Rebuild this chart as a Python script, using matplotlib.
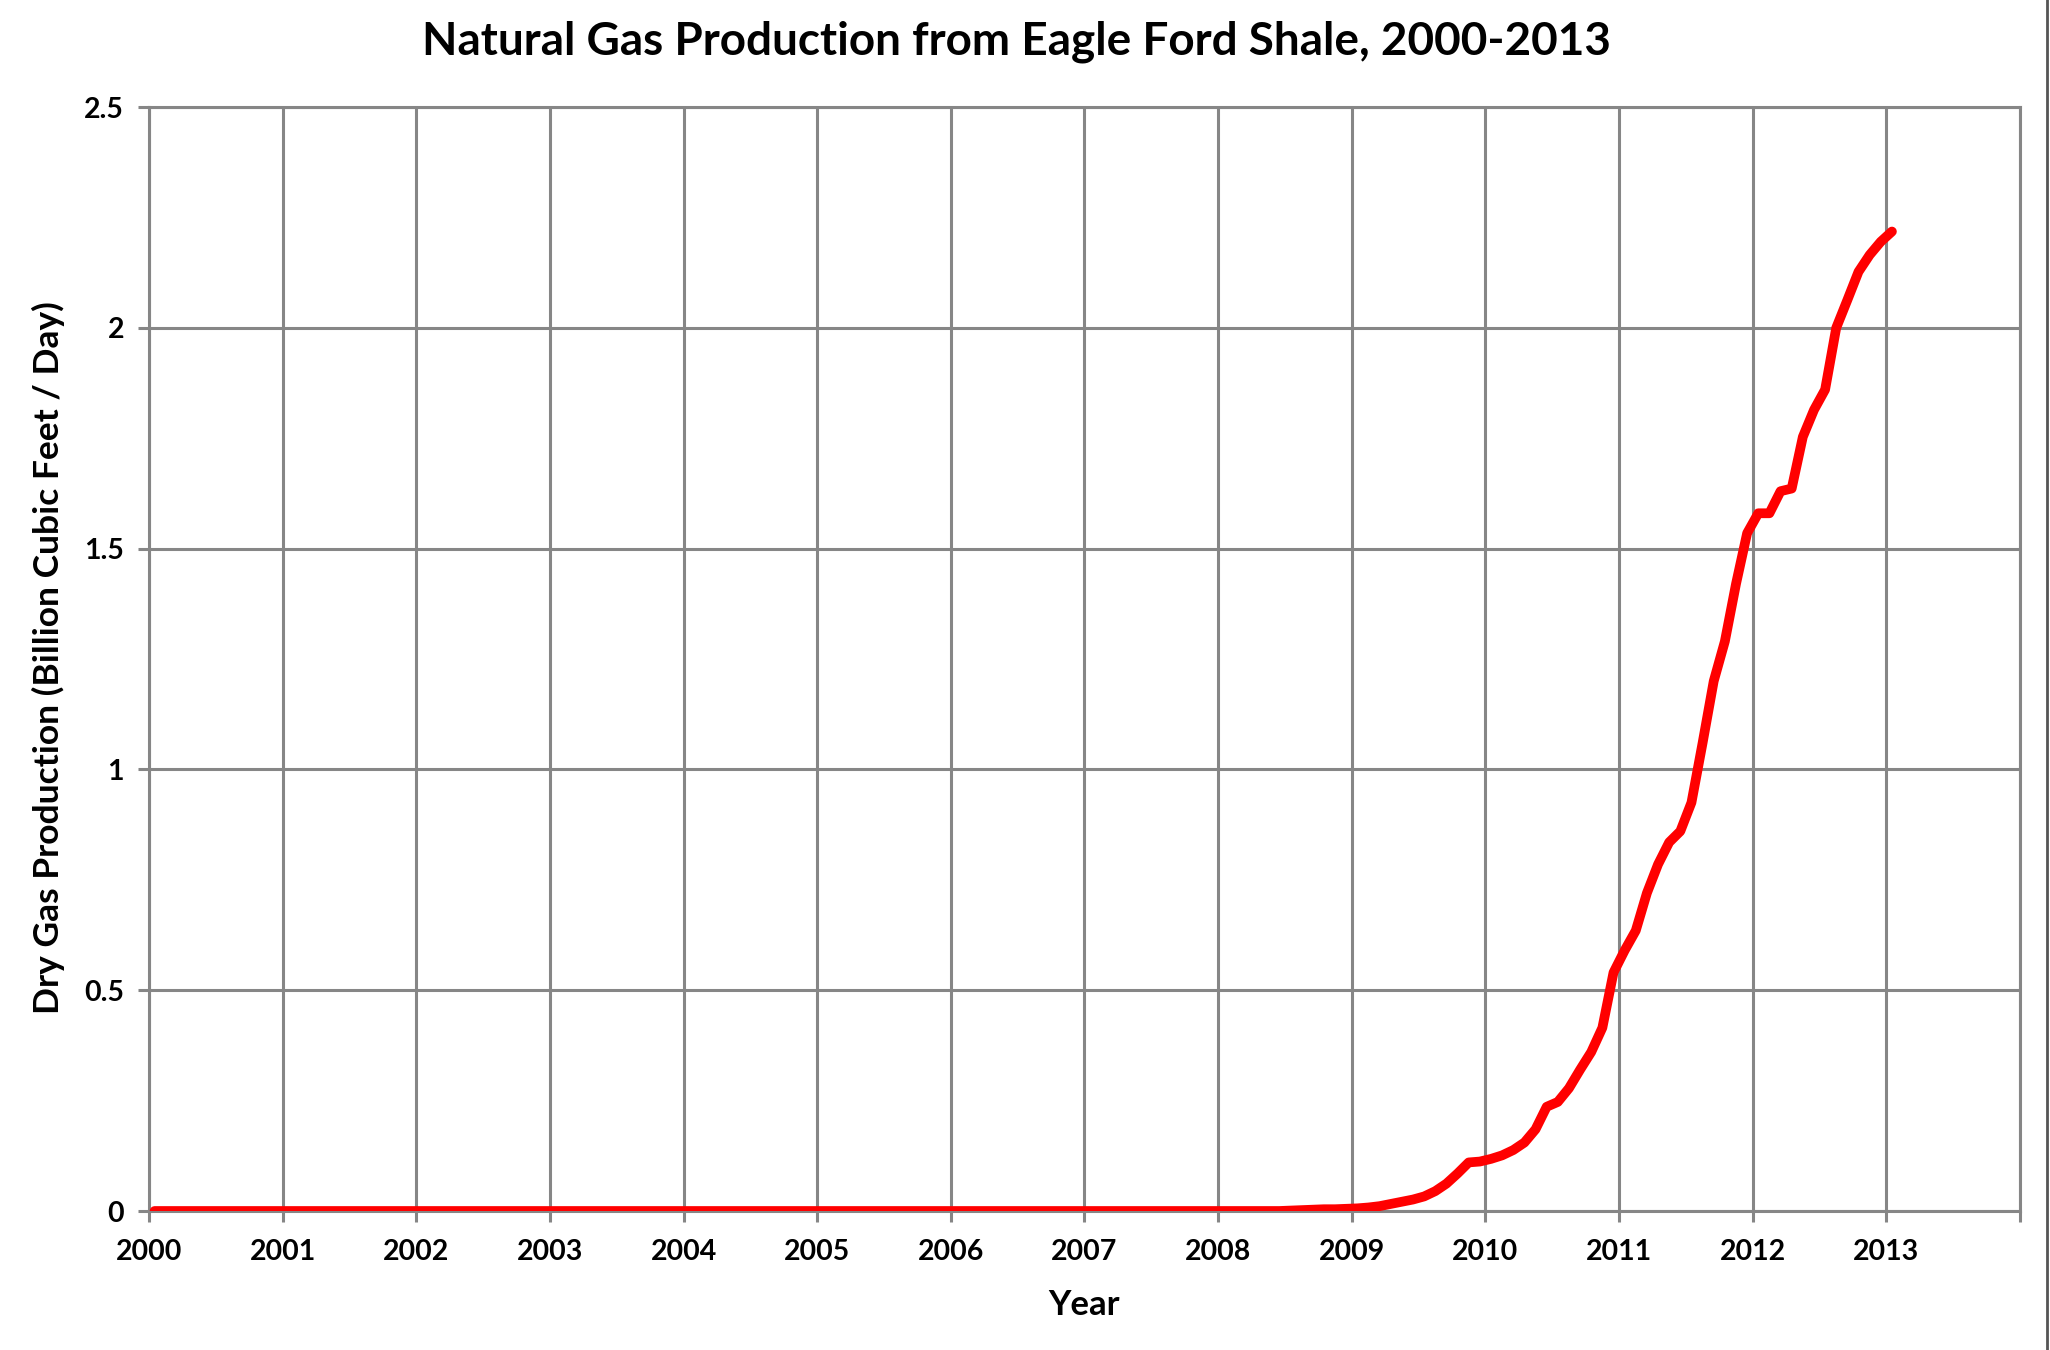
import numpy as np
import matplotlib
matplotlib.use("Agg")
import matplotlib.pyplot as plt
from matplotlib.lines import Line2D

# ---- data (monthly dry gas production, Bcf/d), Jan 2000 .. Jan 2013 ----
prod_2000 = [0.0] * 12
prod_2001 = [0.0] * 12
prod_2002 = [0.0] * 12
prod_2003 = [0.0] * 12
prod_2004 = [0.0] * 12
prod_2005 = [0.0] * 12
prod_2006 = [0.0] * 12
prod_2007 = [0.0] * 12
prod_2008 = [0.0, 0.0, 0.0, 0.0, 0.0, 0.0, 0.001, 0.002, 0.003, 0.004, 0.004, 0.005]
prod_2009 = [0.006, 0.008, 0.011, 0.016, 0.021, 0.026, 0.033, 0.045, 0.062, 0.085, 0.110, 0.112]
prod_2010 = [0.118, 0.126, 0.138, 0.155, 0.185, 0.236, 0.247, 0.278, 0.320, 0.360, 0.415, 0.540]
prod_2011 = [0.590, 0.635, 0.720, 0.785, 0.835, 0.860, 0.925, 1.060, 1.200, 1.290, 1.420, 1.535]
prod_2012 = [1.580, 1.580, 1.630, 1.636, 1.753, 1.814, 1.860, 2.000, 2.063, 2.127, 2.165, 2.195]
prod_2013 = [2.218]

production = (prod_2000 + prod_2001 + prod_2002 + prod_2003 + prod_2004 + prod_2005 +
              prod_2006 + prod_2007 + prod_2008 + prod_2009 + prod_2010 + prod_2011 +
              prod_2012 + prod_2013)
# mid-month decimal dates
dates = 2000 + (np.arange(len(production)) + 0.5) / 12.0

year_ticks = list(range(2000, 2015))
year_labels = [str(y) for y in range(2000, 2014)] + [""]
y_ticks = [0, 0.5, 1, 1.5, 2, 2.5]
y_labels = ["0", "0.5", "1", "1.5", "2", "2.5"]

title = "Natural Gas Production from Eagle Ford Shale, 2000-2013"
xlabel = "Year"
ylabel = "Dry Gas Production (Billion Cubic Feet / Day)"

# ---- figure ----
plt.rcParams['font.family'] = ['Lato', 'DejaVu Sans']
plt.rcParams['font.weight'] = 'bold'

fig = plt.figure(figsize=(20.5, 13.5), dpi=100)
ax = fig.add_axes([149/2050, 1 - 1211/1350, (2020-149)/2050, (1211-107)/1350])

gray = "#868686"
ax.plot(dates, production, color="#ff0000", lw=7.0, solid_capstyle="round",
        solid_joinstyle="round", zorder=3)

ax.set_xlim(2000, 2014)
ax.set_ylim(0, 2.5)
ax.set_xticks(year_ticks)
ax.set_xticklabels(year_labels)
ax.set_yticks(y_ticks)
ax.set_yticklabels(y_labels)

ax.grid(True, color=gray, lw=2.2)
ax.set_axisbelow(True)
for s in ax.spines.values():
    s.set_color(gray)
    s.set_linewidth(2.2)
ax.tick_params(axis='both', colors=gray, width=2.2, length=8, labelcolor='black',
               labelsize=20.5)
ax.tick_params(axis='x', pad=12)
ax.tick_params(axis='y', pad=10)
for lab in ax.get_xticklabels() + ax.get_yticklabels():
    lab.set_fontweight('bold')

fig.text(1016/2050, 1 - 42/1350, title, ha='center', va='center',
         fontsize=33, fontweight='bold')
fig.text(1084/2050, 1 - 1305/1350, xlabel, ha='center', va='center',
         fontsize=25, fontweight='bold')
fig.text(48/2050, 1 - 658/1350, ylabel, ha='center', va='center', rotation=90,
         fontsize=25.5, fontweight='bold')

# chart-area border at right edge
fig.add_artist(Line2D([2047/2050, 2047/2050], [0, 1], transform=fig.transFigure,
                      color="#555555", lw=2))

fig.savefig("out.png", dpi=100)
